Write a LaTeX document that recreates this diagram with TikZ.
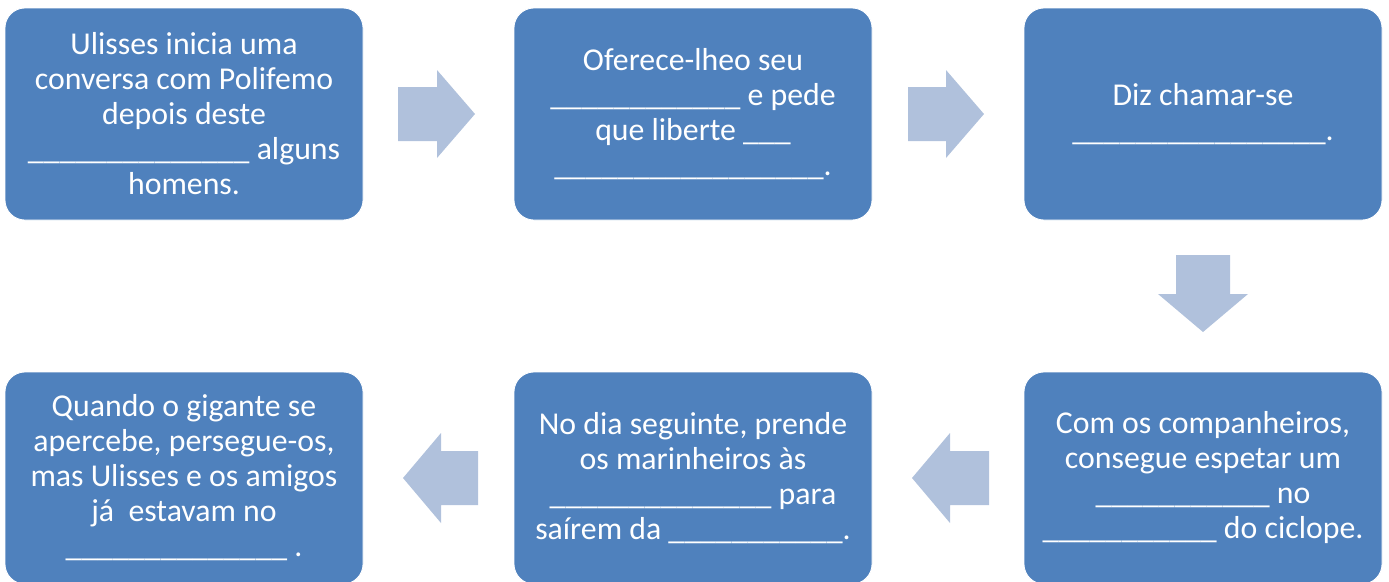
\documentclass[tikz,border=0pt]{standalone}
\usepackage{fontspec}
\setmainfont{Carlito}
\definecolor{boxblue}{RGB}{79,129,189}
\definecolor{arrowblue}{RGB}{176,193,220}
\def\ublank#1{\ifnum#1>0 \_\expandafter\ublank\expandafter{\the\numexpr#1-1\relax}\fi}
\begin{document}
\begin{tikzpicture}[x=1pt,y=-1pt,
  stepbox/.style={rectangle, rounded corners=20pt, fill=boxblue, draw=white, line width=0.8pt,
    minimum width=358pt, minimum height=212pt, text=white, align=center,
    font=\fontsize{31.8}{35}\selectfont, inner sep=0pt},
  flow/.style={fill=arrowblue, draw=none}]
\useasboundingbox (0,0) rectangle (1389,581);
\node[stepbox] (b1) at (184,114) {Ulisses inicia uma\\conversa com Polifemo\\depois deste\\\ublank{14} alguns\\homens.};
\node[stepbox] (b2) at (693,114) {Oferece-lheo seu\\\ublank{12} e pede\\que liberte \ublank{3}\\\ublank{17}.};
\node[stepbox] (b3) at (1203,114) {Diz chamar-se\\\ublank{16}.};
\node[stepbox] (b6) at (1203,478) {Com os companheiros,\\consegue espetar um\\\ublank{11} no\\\ublank{11} do ciclope.};
\node[stepbox] (b5) at (693,478) {No dia seguinte, prende\\os marinheiros às\\\ublank{14} para\\saírem da \ublank{11}.};
\node[stepbox] (b4) at (184,478) {Quando o gigante se\\apercebe, persegue-os,\\mas Ulisses e os amigos\\já\ \ estavam no\\\ublank{14} .};
% block arrows between the boxes
\coordinate (a12) at (398,114);
\coordinate (a23) at (908,114);
\coordinate (a36) at (1203,255);
\coordinate (a65) at (989,478);
\coordinate (a54) at (478,478);
\fill[flow] (a12) ++(0,-27) -- ++(39,0) -- ++(0,-17) -- ++(38,44) -- ++(-38,44) -- ++(0,-17) -- ++(-39,0) -- cycle;
\fill[flow] (a23) ++(0,-27) -- ++(38,0) -- ++(0,-17) -- ++(38,44) -- ++(-38,44) -- ++(0,-17) -- ++(-38,0) -- cycle;
\fill[flow] (a36) ++(-27,0) -- ++(0,39) -- ++(-18,0) -- ++(45,38) -- ++(45,-38) -- ++(-18,0) -- ++(0,-39) -- cycle;
\fill[flow] (a65) ++(0,-27) -- ++(-39,0) -- ++(0,-18) -- ++(-38,45) -- ++(38,45) -- ++(0,-18) -- ++(39,0) -- cycle;
\fill[flow] (a54) ++(0,-27) -- ++(-37,0) -- ++(0,-18) -- ++(-38,45) -- ++(38,45) -- ++(0,-18) -- ++(37,0) -- cycle;
\end{tikzpicture}
\end{document}
